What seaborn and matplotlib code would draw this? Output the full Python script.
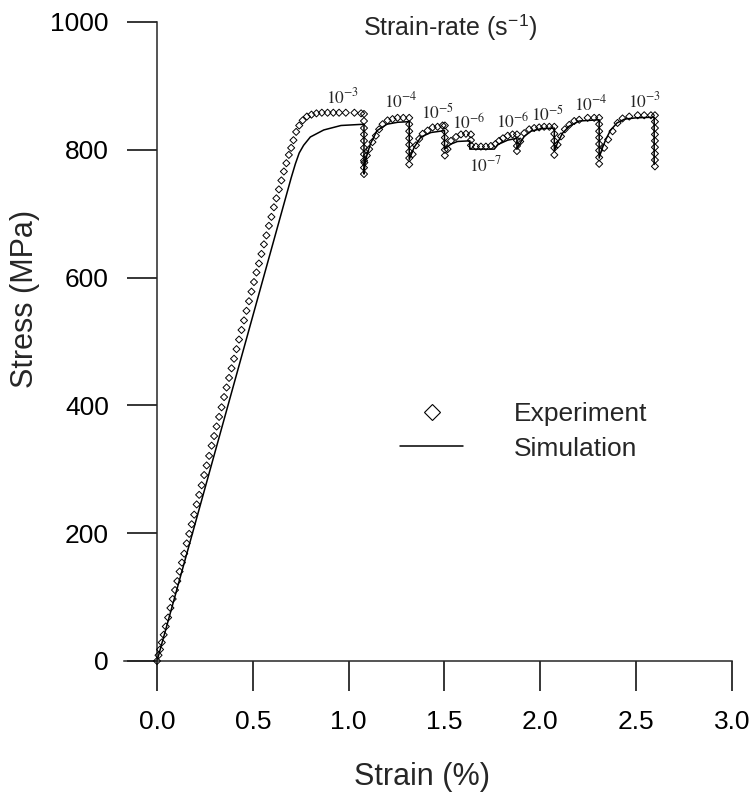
import matplotlib
matplotlib.use("Agg")
import matplotlib.pyplot as plt
import seaborn as sns
from matplotlib.lines import Line2D

# Experimental stress-strain points (strain in %, stress in MPa)
exp_strain = [
    0.000, 0.008, 0.016, 0.025, 0.035, 0.046, 0.058, 0.070, 0.082, 0.094,
    0.106, 0.118, 0.130, 0.142, 0.155, 0.168, 0.181, 0.194, 0.207, 0.220,
    0.233, 0.246, 0.259, 0.272, 0.285, 0.298, 0.311, 0.324, 0.337, 0.350,
    0.363, 0.376, 0.389, 0.402, 0.415, 0.428, 0.441, 0.454, 0.467, 0.480,
    0.493, 0.506, 0.519, 0.532, 0.545, 0.558, 0.571, 0.584, 0.597, 0.610,
    0.623, 0.636, 0.649, 0.662, 0.675, 0.688, 0.700, 0.712, 0.726, 0.742,
    0.760, 0.782, 0.806, 0.832, 0.860, 0.890, 0.920, 0.950, 0.985, 1.030,
    1.065, 1.080,
    1.080, 1.080, 1.080, 1.080, 1.080, 1.080, 1.080, 1.080, 1.080,
    1.082, 1.095, 1.107, 1.124, 1.142, 1.159, 1.177, 1.203, 1.229, 1.255,
    1.285, 1.316,
    1.316, 1.316, 1.316, 1.316, 1.316, 1.316, 1.316,
    1.334, 1.351, 1.368, 1.386, 1.412, 1.438, 1.464, 1.490, 1.502,
    1.502, 1.502, 1.502, 1.502, 1.502,
    1.516, 1.534, 1.560, 1.586, 1.612, 1.638,
    1.638, 1.638,
    1.664, 1.690, 1.716, 1.742, 1.766, 1.785, 1.805, 1.830, 1.855, 1.878,
    1.878, 1.878, 1.878,
    1.895, 1.916, 1.942, 1.968, 1.994, 2.020, 2.047, 2.073,
    2.073, 2.073, 2.073, 2.073,
    2.090, 2.108, 2.128, 2.151, 2.177, 2.203, 2.247, 2.281, 2.307,
    2.307, 2.307, 2.307, 2.307, 2.307, 2.307, 2.307,
    2.333, 2.354, 2.377, 2.403, 2.429, 2.464, 2.508, 2.542, 2.577, 2.598,
    2.598, 2.598, 2.598, 2.598, 2.598, 2.598, 2.598, 2.598,
]
exp_stress = [
    0, 9, 18, 29, 41, 54, 68, 83, 97, 111,
    125, 140, 154, 168, 184, 199, 214, 229, 245, 260,
    275, 291, 306, 321, 337, 352, 367, 382, 397, 413,
    428, 443, 458, 473, 488, 503, 518, 533, 548, 563,
    578, 593, 608, 622, 637, 652, 666, 681, 695, 710,
    724, 738, 752, 766, 779, 792, 803, 815, 828, 838,
    846, 852, 855, 857, 858, 858, 858, 858, 858, 858,
    857, 856,
    845, 834, 824, 814, 803, 793, 783, 772, 762,
    780, 791, 801, 812, 822, 832, 840, 846, 848, 850,
    850, 850,
    840, 829, 818, 808, 797, 787, 777,
    793, 807, 817, 825, 830, 835, 836, 838, 838,
    829, 819, 810, 800, 791,
    801, 814, 820, 824, 825, 824,
    815, 807,
    805, 805, 805, 806, 809, 814, 818, 822, 824, 824,
    815, 806, 798,
    813, 826, 832, 834, 835, 836, 836, 836,
    825, 814, 803, 792,
    808, 821, 832, 839, 845, 847, 850, 850, 850,
    840, 829, 819, 809, 799, 788, 778,
    803, 816, 829, 842, 849, 852, 854, 854, 854, 854,
    844, 834, 824, 814, 804, 794, 784, 774,
]

# Simulated response (strain in %, stress in MPa)
sim_strain = [
    0.000, 0.700, 0.722, 0.742, 0.765, 0.800, 0.870, 0.960, 1.080,
    1.080, 1.087, 1.113, 1.148, 1.200, 1.255, 1.316,
    1.316, 1.342, 1.377, 1.429, 1.500,
    1.500, 1.534, 1.568, 1.632,
    1.632, 1.760, 1.777, 1.829, 1.878,
    1.878, 1.916, 1.951, 2.003, 2.073,
    2.073, 2.090, 2.116, 2.151, 2.203, 2.307,
    2.307, 2.320, 2.340, 2.365, 2.400, 2.440, 2.500, 2.594,
    2.594,
]
sim_stress = [
    0, 756, 778, 795, 807, 820, 831, 838, 840,
    762, 783, 809, 830, 840, 843, 844,
    785, 804, 820, 827, 830,
    801, 809, 813, 814,
    801, 801, 808, 815, 818,
    802, 821, 829, 833, 834,
    798, 811, 826, 837, 845, 847,
    787, 800, 815, 830, 842, 848, 850, 851,
    777,
]

# Strain-rate annotations for each loading segment
rate_labels = [
    "$10^{-3}$", "$10^{-4}$", "$10^{-5}$", "$10^{-6}$", "$10^{-7}$",
    "$10^{-6}$", "$10^{-5}$", "$10^{-4}$", "$10^{-3}$",
]
rate_label_x = [0.97, 1.273, 1.466, 1.628, 1.716, 1.857, 2.04, 2.264, 2.546]
rate_label_y = [884, 878, 859, 844, 777, 845, 856, 872, 878]

x_ticks = [0.0, 0.5, 1.0, 1.5, 2.0, 2.5, 3.0]
y_ticks = [0, 200, 400, 600, 800, 1000]

sns.set_style("ticks")
plt.rcParams["font.family"] = ["Liberation Sans", "DejaVu Sans"]
plt.rcParams["mathtext.fontset"] = "stix"

fig = plt.figure(figsize=(7.54, 7.96), dpi=100)
ax = fig.add_axes([0.165, 0.1696, 0.8058, 0.8028])

sns.lineplot(x=sim_strain, y=sim_stress, sort=False, estimator=None,
             color="black", linewidth=1.1, ax=ax)
sns.scatterplot(x=exp_strain, y=exp_stress, marker="D", s=13,
                facecolor="none", edgecolor="black", linewidth=0.7,
                ax=ax, zorder=3, clip_on=False)

for lab, lx, ly in zip(rate_labels, rate_label_x, rate_label_y):
    ax.text(lx, ly, lab, ha="center", va="center", fontsize=12.5)

ax.set_xlim(-0.17, 3.0)
ax.set_ylim(0, 1000)
ax.spines["left"].set_position(("data", 0))
ax.spines["top"].set_visible(False)
ax.spines["right"].set_visible(False)
for sp in ("left", "bottom"):
    ax.spines[sp].set_linewidth(1.1)

ax.set_xticks(x_ticks)
ax.set_xticklabels([f"{v:.1f}" for v in x_ticks])
ax.set_yticks(y_ticks)
ax.set_yticklabels([str(v) for v in y_ticks])
ax.tick_params(axis="both", direction="out", length=21.6, width=1.1,
               labelsize=19, colors="black")
ax.tick_params(axis="y", pad=13)
ax.tick_params(axis="x", pad=14)

ax.set_xlabel("Strain (%)", fontsize=22)
ax.set_ylabel("Stress (MPa)", fontsize=22)
ax.xaxis.set_label_coords(0.49, -0.182)
ax.xaxis.label.set_va("center")
ax.yaxis.set_label_coords(-0.163, 0.566)
ax.yaxis.label.set_va("center")

fig.text(450 / 754, 1 - 28 / 796, "Strain-rate (s$^{\\mathregular{-1}}$)",
         ha="center", va="center", fontsize=18)

handles = [
    Line2D([], [], marker="D", linestyle="none", markerfacecolor="none",
           markeredgecolor="black", markersize=8, markeredgewidth=0.8),
    Line2D([], [], color="black", linewidth=1.1),
]
ax.legend(handles, ["Experiment", "Simulation"], loc="upper left",
          bbox_to_anchor=(400 / 754, 1 - 402 / 796),
          bbox_transform=fig.transFigure, frameon=False, fontsize=19,
          handlelength=2.4, handletextpad=1.9, labelspacing=0.4,
          borderpad=0, borderaxespad=0)

fig.savefig("out.png", dpi=100)
